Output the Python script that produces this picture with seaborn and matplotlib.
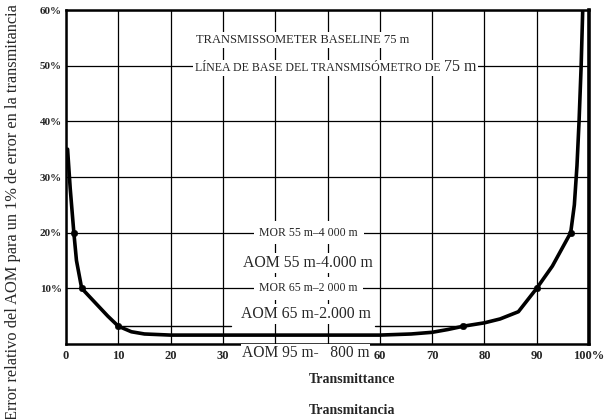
import matplotlib
matplotlib.use("Agg")
import matplotlib.pyplot as plt
import seaborn as sns
import pandas as pd

# ---- data ----
transmittance = [0.3, 0.8, 1.5, 2.0, 3.0, 4.5, 6.0, 8.0, 10.0, 12.5, 15.0, 20.0, 30.0, 40.0,
                 50.0, 60.0, 66.0, 70.0, 73.0, 76.0, 80.0, 83.0, 86.5, 90.0, 93.0, 96.5,
                 97.2, 97.7, 98.1, 98.5, 98.8]
rel_error = [35.0, 28.0, 20.0, 15.0, 10.0, 8.5, 7.0, 5.0, 3.2, 2.2, 1.8, 1.6, 1.6, 1.6,
             1.6, 1.6, 1.8, 2.1, 2.6, 3.2, 3.8, 4.5, 5.8, 10.0, 14.0, 20.0,
             25.0, 32.0, 40.0, 50.0, 60.0]
marker_T = [1.5, 3.0, 10.0, 76.0, 90.0, 96.5]
marker_E = [20.0, 10.0, 3.2, 3.2, 10.0, 20.0]

x_ticks = [0, 10, 20, 30, 40, 50, 60, 70, 80, 90, 100]
x_labels = ["0", "10", "20", "30", "", "", "60", "70", "80", "90", "100%"]
y_ticks = [10, 20, 30, 40, 50, 60]
y_labels = ["10%", "20%", "30%", "40%", "50%", "60%"]

mor95_left_x = [10.0, 31.5]
mor95_right_x = [59.0, 76.0]
mor95_y = 3.2

df = pd.DataFrame({"T": transmittance, "E": rel_error})
dm = pd.DataFrame({"T": marker_T, "E": marker_E})

sns.set_theme(style="white")
plt.rcParams["font.family"] = ["Liberation Serif", "DejaVu Serif"]

fig = plt.figure(figsize=(6.16, 4.19), dpi=100)
ax = fig.add_axes([66 / 616, 1 - 344 / 419, (589 - 66) / 616, (344 - 10) / 419])

ax.set_xlim(0, 100)
ax.set_ylim(0, 60)
ax.set_xticks(x_ticks)
ax.set_xticklabels(x_labels, fontsize=9, fontweight="bold")
ax.set_yticks(y_ticks)
ax.set_yticklabels(y_labels, fontsize=8, fontweight="bold")
ax.tick_params(axis="both", length=0, pad=4)
ax.tick_params(axis="y", pad=3)

ax.grid(True, color="black", linewidth=0.9, zorder=0)
for s in ax.spines.values():
    s.set_color("black")
    s.set_linewidth(1.8)
ax.spines["right"].set_linewidth(2.6)

# MOR 95 m line segments
ax.plot(mor95_left_x, [mor95_y, mor95_y], color="black", lw=1.0, zorder=2)
ax.plot(mor95_right_x, [mor95_y, mor95_y], color="black", lw=1.0, zorder=2)

sns.lineplot(data=df, x="T", y="E", sort=False, color="black", linewidth=2.6,
             ax=ax, zorder=3)
sns.scatterplot(data=dm, x="T", y="E", color="black", s=22, edgecolor="black",
                ax=ax, zorder=4)
ax.set_xlabel("")
ax.set_ylabel("")

wbox = dict(facecolor="white", edgecolor="none", pad=1.5)
ax.text(45.3, 54.6, "TRANSMISSOMETER BASELINE 75 m", ha="center", va="center",
        fontsize=9, bbox=wbox, zorder=5)
t1 = ax.text(24.6, 49.6, "LÍNEA DE BASE DEL TRANSMISÓMETRO DE", ha="left", va="center",
             fontsize=8.6, bbox=wbox, zorder=5)
ax.annotate("75 m", xy=(1.0, 0.0), xycoords=t1, xytext=(2.5, -0.6),
            textcoords="offset points", ha="left", va="bottom", fontsize=11.5,
            bbox=wbox, zorder=5)
ax.text(46.4, 20.0, "MOR 55 m–4 000 m", ha="center", va="center",
        fontsize=8.5, bbox=dict(facecolor="white", edgecolor="none", pad=4), zorder=5)
ax.text(46.3, 14.6, "AOM 55 m-4.000 m", ha="center", va="center",
        fontsize=11.3, bbox=wbox, zorder=5)
ax.text(46.4, 10.0, "MOR 65 m–2 000 m", ha="center", va="center",
        fontsize=8.5, bbox=dict(facecolor="white", edgecolor="none", pad=4), zorder=5)
ax.text(45.9, 5.4, "AOM 65 m-2.000 m", ha="center", va="center",
        fontsize=11.3, bbox=wbox, zorder=5)
ax.text(45.8, -1.6, "AOM 95 m-   800 m", ha="center", va="center",
        fontsize=11.2, bbox=dict(facecolor="white", edgecolor="none", pad=0.5),
        zorder=6, clip_on=False)

fig.text(352 / 616, 1 - 379 / 419, "Transmittance", ha="center", va="center",
         fontsize=10, fontweight="bold")
fig.text(352 / 616, 1 - 410 / 419, "Transmitancia", ha="center", va="center",
         fontsize=10, fontweight="bold")
fig.text(13 / 616, 1 - 212 / 419,
         "Error relativo del AOM para un 1% de error en la transmitancia",
         rotation=90, ha="center", va="center", fontsize=11.8)

fig.savefig("out.png", dpi=100)
